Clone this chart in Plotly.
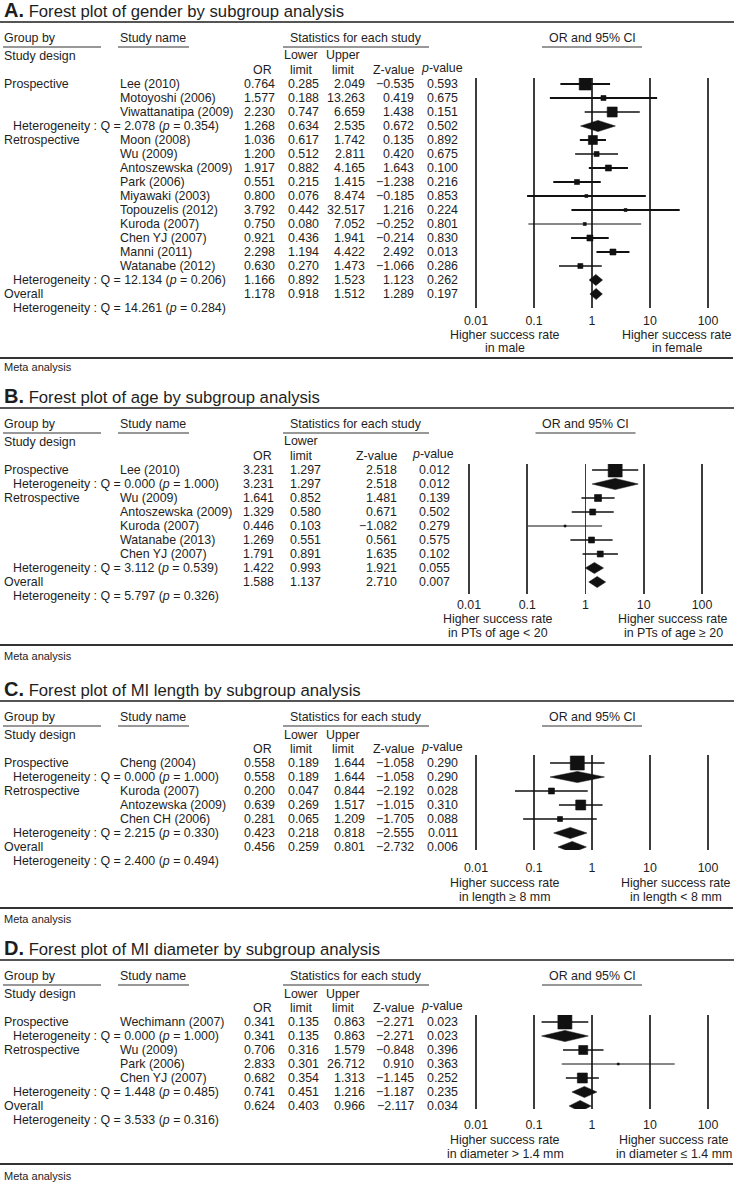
import plotly.graph_objects as go

W, H = 735, 1183
FONT = "Liberation Sans, Arial, Helvetica, sans-serif"
TXT = "#1e1e1e"
FS = 12.4

# ------------------------- DATA -------------------------
# Panel A: gender
A_title = "Forest plot of gender by subgroup analysis"
A_design = ["Prospective"] * 3 + ["Retrospective"] * 10
A_study = ["Lee (2010)", "Motoyoshi (2006)", "Viwattanatipa (2009)", "Moon (2008)", "Wu (2009)",
           "Antoszewska (2009)", "Park (2006)", "Miyawaki (2003)", "Topouzelis (2012)", "Kuroda (2007)",
           "Chen YJ (2007)", "Manni (2011)", "Watanabe (2012)"]
A_or = [0.764, 1.577, 2.230, 1.036, 1.200, 1.917, 0.551, 0.800, 3.792, 0.750, 0.921, 2.298, 0.630]
A_lo = [0.285, 0.188, 0.747, 0.617, 0.512, 0.882, 0.215, 0.076, 0.442, 0.080, 0.436, 1.194, 0.270]
A_hi = [2.049, 13.263, 6.659, 1.742, 2.811, 4.165, 1.415, 8.474, 32.517, 7.052, 1.941, 4.422, 1.473]
A_z = [-0.535, 0.419, 1.438, 0.135, 0.420, 1.643, -1.238, -0.185, 1.216, -0.252, -0.214, 2.492, -1.066]
A_p = [0.593, 0.675, 0.151, 0.892, 0.675, 0.100, 0.216, 0.853, 0.224, 0.801, 0.830, 0.013, 0.286]
A_sub_or = [1.268, 1.166]
A_sub_lo = [0.634, 0.892]
A_sub_hi = [2.535, 1.523]
A_sub_z = [0.672, 1.123]
A_sub_p = [0.502, 0.262]
A_sub_q = [2.078, 12.134]
A_sub_qp = [0.354, 0.206]
A_all = [1.178, 0.918, 1.512, 1.289, 0.197]
A_all_q = [14.261, 0.284]
A_fav = ["in male", "in female"]

# Panel B: age (upper limits not tabulated)
B_title = "Forest plot of age by subgroup analysis"
B_design = ["Prospective"] + ["Retrospective"] * 5
B_study = ["Lee (2010)", "Wu (2009)", "Antoszewska (2009)", "Kuroda (2007)", "Watanabe (2013)", "Chen YJ (2007)"]
B_or = [3.231, 1.641, 1.329, 0.446, 1.269, 1.791]
B_lo = [1.297, 0.852, 0.580, 0.103, 0.551, 0.891]
B_hi = [8.05, 3.16, 3.05, 1.93, 2.92, 3.60]
B_z = [2.518, 1.481, 0.671, -1.082, 0.561, 1.635]
B_p = [0.012, 0.139, 0.502, 0.279, 0.575, 0.102]
B_sub_or = [3.231, 1.422]
B_sub_lo = [1.297, 0.993]
B_sub_hi = [8.05, 2.04]
B_sub_z = [2.518, 1.921]
B_sub_p = [0.012, 0.055]
B_sub_q = [0.000, 3.112]
B_sub_qp = [1.000, 0.539]
B_all = [1.588, 1.137, 2.22, 2.710, 0.007]
B_all_q = [5.797, 0.326]
B_fav = ["in PTs of age < 20", "in PTs of age \u2265 20"]

# Panel C: MI length
C_title = "Forest plot of MI length by subgroup analysis"
C_design = ["Prospective"] + ["Retrospective"] * 3
C_study = ["Cheng (2004)", "Kuroda (2007)", "Antozewska (2009)", "Chen CH (2006)"]
C_or = [0.558, 0.200, 0.639, 0.281]
C_lo = [0.189, 0.047, 0.269, 0.065]
C_hi = [1.644, 0.844, 1.517, 1.209]
C_z = [-1.058, -2.192, -1.015, -1.705]
C_p = [0.290, 0.028, 0.310, 0.088]
C_sub_or = [0.558, 0.423]
C_sub_lo = [0.189, 0.218]
C_sub_hi = [1.644, 0.818]
C_sub_z = [-1.058, -2.555]
C_sub_p = [0.290, 0.011]
C_sub_q = [0.000, 2.215]
C_sub_qp = [1.000, 0.330]
C_all = [0.456, 0.259, 0.801, -2.732, 0.006]
C_all_q = [2.400, 0.494]
C_fav = ["in length \u2265 8 mm", "in length < 8 mm"]

# Panel D: MI diameter
D_title = "Forest plot of MI diameter by subgroup analysis"
D_design = ["Prospective"] + ["Retrospective"] * 3
D_study = ["Wechimann (2007)", "Wu (2009)", "Park (2006)", "Chen YJ (2007)"]
D_or = [0.341, 0.706, 2.833, 0.682]
D_lo = [0.135, 0.316, 0.301, 0.354]
D_hi = [0.863, 1.579, 26.712, 1.313]
D_z = [-2.271, -0.848, 0.910, -1.145]
D_p = [0.023, 0.396, 0.363, 0.252]
D_sub_or = [0.341, 0.741]
D_sub_lo = [0.135, 0.451]
D_sub_hi = [0.863, 1.216]
D_sub_z = [-2.271, -1.187]
D_sub_p = [0.023, 0.235]
D_sub_q = [0.000, 1.448]
D_sub_qp = [1.000, 0.485]
D_all = [0.624, 0.403, 0.966, -2.117, 0.034]
D_all_q = [3.533, 0.316]
D_fav = ["in diameter > 1.4 mm", "in diameter \u2264 1.4 mm"]

tick_vals = [0.01, 0.1, 1, 10, 100]
tick_text = ["0.01", "0.1", "1", "10", "100"]

# ------------------------- STYLE (marker sizes / line widths / positions) -------------------------
A_sq = [12, 5, 10, 9, 5, 6, 5, 3, 3, 3, 6, 6, 5]
A_lw = [2.2, 2.2, 1.4, 2.2, 1.4, 2.2, 2.2, 2.2, 2.2, 1.0, 2.2, 2.2, 1.4]
B_sq = [14, 7, 6, 2, 6, 6]
B_lw = [1.6, 1.6, 1.6, 1.0, 1.6, 1.6]
C_sq = [14, 6, 10, 5]
C_lw = [1.6, 1.3, 1.6, 1.3]
D_sq = [14, 9, 2, 10]
D_lw = [1.6, 1.6, 1.0, 1.6]

panels = [
    dict(letter="A", title=A_title, design=A_design, study=A_study, orr=A_or, lo=A_lo, hi=A_hi, z=A_z, p=A_p,
         sor=A_sub_or, slo=A_sub_lo, shi=A_sub_hi, sz=A_sub_z, sp=A_sub_p, sq=A_sub_q, sqp=A_sub_qp,
         allv=A_all, allq=A_all_q, fav=A_fav, msz=A_sq, lw=A_lw, upper=True,
         r0=84, step=14.0, x001=476, dec=58.0, ltop=78, lbot=308, ticky=321, lab1=335, lab2=348,
         boty=358, metay=367, favx=(505, 677), cols=(276, 320, 366, 415, 459), hz=415, hp=464, stand=4),
    dict(letter="B", title=B_title, design=B_design, study=B_study, orr=B_or, lo=B_lo, hi=B_hi, z=B_z, p=B_p,
         sor=B_sub_or, slo=B_sub_lo, shi=B_sub_hi, sz=B_sub_z, sp=B_sub_p, sq=B_sub_q, sqp=B_sub_qp,
         allv=B_all, allq=B_all_q, fav=B_fav, msz=B_sq, lw=B_lw, upper=False,
         r0=470, step=14.0, x001=469, dec=58.25, ltop=464, lbot=594, ticky=605, lab1=619, lab2=633,
         boty=645, metay=656, favx=(498, 673), cols=(275, 322, None, 398, 451), hz=398, hp=455, stand=2),
    dict(letter="C", title=C_title, design=C_design, study=C_study, orr=C_or, lo=C_lo, hi=C_hi, z=C_z, p=C_p,
         sor=C_sub_or, slo=C_sub_lo, shi=C_sub_hi, sz=C_sub_z, sp=C_sub_p, sq=C_sub_q, sqp=C_sub_qp,
         allv=C_all, allq=C_all_q, fav=C_fav, msz=C_sq, lw=C_lw, upper=True,
         r0=763, step=14.0, x001=476, dec=58.0, ltop=755, lbot=850, ticky=868, lab1=883, lab2=897,
         boty=908, metay=919, favx=(505, 676), cols=(276, 320, 366, 415, 459), hz=415, hp=464, stand=9),
    dict(letter="D", title=D_title, design=D_design, study=D_study, orr=D_or, lo=D_lo, hi=D_hi, z=D_z, p=D_p,
         sor=D_sub_or, slo=D_sub_lo, shi=D_sub_hi, sz=D_sub_z, sp=D_sub_p, sq=D_sub_q, sqp=D_sub_qp,
         allv=D_all, allq=D_all_q, fav=D_fav, msz=D_sq, lw=D_lw, upper=True,
         r0=1022, step=14.0, x001=476, dec=58.0, ltop=1015, lbot=1109, ticky=1125, lab1=1140, lab2=1154,
         boty=1164, metay=1176, favx=(505, 674), cols=(276, 320, 366, 415, 459), hz=415, hp=464, stand=7),
]


def PX(x):
    return x / W


def PY(y):
    return 1 - y / H


def fmt(v):
    return f"{v:.3f}".replace("-", "\u2212")


annotations = []
shapes = []


def txt(x, y, s, anchor="left", size=FS, color=TXT):
    annotations.append(dict(x=PX(x), y=PY(y), xref="paper", yref="paper", text=s, showarrow=False,
                            xanchor=anchor, yanchor="middle", align=anchor if anchor != "center" else "center",
                            borderpad=0, font=dict(family=FONT, size=size, color=color)))


def hline(x0, x1, y, w=1.0, color="#333"):
    shapes.append(dict(type="line", xref="paper", yref="paper", x0=PX(x0), x1=PX(x1), y0=PY(y), y1=PY(y),
                       line=dict(color=color, width=w)))


fig = go.Figure()
layout_axes = {}

for k, P in enumerate(panels):
    n = k + 1
    xa = "x" if n == 1 else f"x{n}"
    ya = "y" if n == 1 else f"y{n}"
    r0, step = P["r0"], P["step"]

    def ry(i, r0=r0, step=step):
        return r0 + i * step

    # ---- headers ----
    txt(3, r0 - 74, f"<b><span style='font-size:20px'>{P['letter']}.</span></b> {P['title']}", size=16.7)
    hline(0, 734, r0 - 62, 2.0, "#555")
    txt(3, r0 - 46, "Group by")
    txt(119, r0 - 46, "Study name")
    txt(356, r0 - 46, "Statistics for each study", "center")
    cci = P["x001"] + 2 * P["dec"]
    txt(cci, r0 - 46, "OR and 95% CI", "center")
    hline(3, 101, r0 - 37, 1.2, "#333")
    hline(118, 189, r0 - 37, 1.2, "#333")
    hline(283, 429, r0 - 37, 1.2, "#333")
    hline(cci - 50, cci + 50, r0 - 37, 1.2, "#333")
    txt(3, r0 - 28, "Study design")
    txt(262, r0 - 14.5, "OR", "center")
    txt(301, r0 - 28.5, "Lower", "center")
    txt(301, r0 - 14.5, "limit", "center")
    if P["upper"]:
        txt(343, r0 - 28.5, "Upper", "center")
        txt(343, r0 - 14.5, "limit", "center")
    txt(P["hz"], r0 - 14.5, "Z-value", "right")
    txt(P["hp"], r0 - 16, "<i>p</i>-value", "right")

    # ---- rows ----
    groups = []
    for d in P["design"]:
        if d not in groups:
            groups.append(d)
    row = 0
    study_rows = []
    pooled = []  # (row, or, lo, hi)
    cols = P["cols"]

    def put_vals(rw, v, cols=cols, P=P, ry=ry):
        y = ry(rw)
        txt(cols[0], y, fmt(v[0]), "right")
        txt(cols[1], y, fmt(v[1]), "right")
        if P["upper"]:
            txt(cols[2], y, fmt(v[2]), "right")
        txt(cols[3], y, fmt(v[3]), "right")
        txt(cols[4], y, fmt(v[4]), "right")

    for gi, g in enumerate(groups):
        idx = [i for i, d in enumerate(P["design"]) if d == g]
        for j, i in enumerate(idx):
            if j == 0:
                txt(3, ry(row), g)
            txt(119, ry(row), P["study"][i])
            put_vals(row, [P["orr"][i], P["lo"][i], P["hi"][i], P["z"][i], P["p"][i]])
            study_rows.append((row, i))
            row += 1
        txt(12, ry(row), f"Heterogeneity : Q = {P['sq'][gi]:.3f} (<i>p</i> = {P['sqp'][gi]:.3f})")
        put_vals(row, [P["sor"][gi], P["slo"][gi], P["shi"][gi], P["sz"][gi], P["sp"][gi]])
        pooled.append((row, P["sor"][gi], P["slo"][gi], P["shi"][gi]))
        row += 1
    txt(3, ry(row), "Overall")
    put_vals(row, P["allv"])
    pooled.append((row, P["allv"][0], P["allv"][1], P["allv"][2]))
    row += 1
    txt(12, ry(row), f"Heterogeneity : Q = {P['allq'][0]:.3f} (<i>p</i> = {P['allq'][1]:.3f})")

    # ---- favour labels and frame ----
    txt(P["favx"][0], P["lab1"], "Higher success rate", "center")
    txt(P["favx"][0], P["lab2"], P["fav"][0], "center")
    txt(P["favx"][1], P["lab1"], "Higher success rate", "center")
    txt(P["favx"][1], P["lab2"], P["fav"][1], "center")
    hline(0, 733, P["boty"], 1.8, "#333")
    txt(3, P["metay"], "Meta analysis", size=11)

    # ---- forest traces ----
    for (rw, i) in study_rows:
        fig.add_trace(go.Scatter(x=[P["lo"][i], P["hi"][i]], y=[rw, rw], mode="lines",
                                 line=dict(color="#111111", width=P["lw"][i]), xaxis=xa, yaxis=ya,
                                 opacity=1, hoverinfo="skip", showlegend=False))
    fig.add_trace(go.Scatter(x=[P["orr"][i] for _, i in study_rows], y=[rw for rw, _ in study_rows],
                             mode="markers", opacity=1,
                             marker=dict(symbol="square", size=[P["msz"][i] for _, i in study_rows],
                                         color="#111111", opacity=1, line=dict(width=0.6, color="#111111")),
                             xaxis=xa, yaxis=ya, hoverinfo="skip", showlegend=False))
    hh = 5.6 / step
    dx, dy = [], []
    for (rw, o, l, h) in pooled:
        dx += [l, o, h, o, l, None]
        dy += [rw, rw - hh, rw, rw + hh, rw, None]
    fig.add_trace(go.Scatter(x=dx, y=dy, mode="lines", fill="toself", fillcolor="#111111",
                             line=dict(color="#111111", width=0.5), xaxis=xa, yaxis=ya,
                             hoverinfo="skip", showlegend=False))

    # ---- axes ----
    xl = P["x001"] - 0.3 * P["dec"]
    xr = P["x001"] + 4.3 * P["dec"]
    layout_axes["xaxis" if n == 1 else f"xaxis{n}"] = dict(
        type="log", range=[-2.3, 2.3], domain=[PX(xl), PX(xr)], anchor=ya,
        tickmode="array", tickvals=tick_vals, ticktext=tick_text, ticks="",
        showgrid=True, gridcolor="#3d3d3d", gridwidth=1.6, zeroline=False, showline=False,
        tickfont=dict(family=FONT, size=FS, color=TXT), ticklabelstandoff=P["stand"], fixedrange=True)
    layout_axes["yaxis" if n == 1 else f"yaxis{n}"] = dict(
        domain=[PY(P["lbot"]), PY(P["ltop"])], anchor=xa,
        range=[(P["lbot"] - r0) / step, (P["ltop"] - r0) / step],
        visible=False, showgrid=False, zeroline=False, fixedrange=True)

fig.update_layout(width=W, height=H, margin=dict(l=0, r=0, t=0, b=0),
                  paper_bgcolor="white", plot_bgcolor="rgba(0,0,0,0)", showlegend=False,
                  annotations=annotations, shapes=shapes, **layout_axes)

fig.write_html("out.html", config={"displayModeBar": False, "staticPlot": True},
               post_script="document.body.style.margin='0';document.body.style.padding='0';")
